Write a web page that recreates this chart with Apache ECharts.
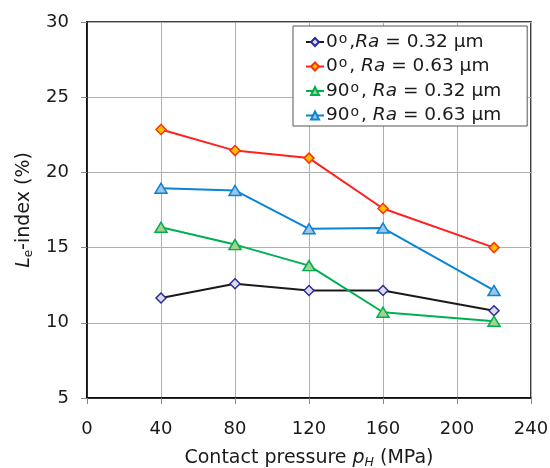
<!DOCTYPE html>
<html>
<head>
<meta charset="utf-8">
<script src="https://cdn.jsdelivr.net/npm/echarts@6/dist/echarts.min.js"></script>
<style>
  html, body { margin: 0; padding: 0; background: #fff; }
  #chart { width: 550px; height: 468px; }
</style>
</head>
<body>
<div id="chart"></div>
<script>
// Contact pressure (MPa) at which each L_e-index was measured
var pressures = [40, 80, 120, 160, 220];

// L_e-index (%) for each orientation / roughness combination
var le0Ra032 = [11.65, 12.6, 12.15, 12.15, 10.8];
var le0Ra063 = [22.85, 21.45, 20.95, 17.6, 15.0];
var le90Ra032 = [16.35, 15.2, 13.8, 10.7, 10.1];
var le90Ra063 = [18.95, 18.8, 16.25, 16.3, 12.15];

// Axis ticks
var xTicks = [0, 40, 80, 120, 160, 200, 240];
var yTicks = [5, 10, 15, 20, 25, 30];

// Series names and their rich-text legend labels
var seriesNames = ['0°,Ra = 0.32 μm', '0°, Ra = 0.63 μm', '90°, Ra = 0.32 μm', '90°, Ra = 0.63 μm'];
var legendRich = {
  '0°,Ra = 0.32 μm': '{n|0}{s|o}{n|,}{i|Ra}{n| = 0.32 μm}',
  '0°, Ra = 0.63 μm': '{n|0}{s|o}{n|, }{i|Ra}{n| = 0.63 μm}',
  '90°, Ra = 0.32 μm': '{n|90}{s|o}{n|, }{i|Ra}{n| = 0.32 μm}',
  '90°, Ra = 0.63 μm': '{n|90}{s|o}{n|, }{i|Ra}{n| = 0.63 μm}'
};

var FONT = 'DejaVu Sans';
var TXT = '#1a1a1a';

function pairs(ys) {
  return pressures.map(function (x, i) { return [x, ys[i]]; });
}

function lineSeries(name, ys, lineColor, symbol, size, fill, border) {
  return {
    name: name,
    type: 'line',
    data: pairs(ys),
    symbol: symbol,
    symbolSize: size,
    showAllSymbol: true,
    lineStyle: { color: lineColor, width: 2 },
    itemStyle: { color: fill, borderColor: border, borderWidth: 1.5 },
    emphasis: { disabled: true },
    animation: false
  };
}

var chart = echarts.init(document.getElementById('chart'), null, { renderer: 'canvas' });

chart.setOption({
  backgroundColor: '#ffffff',
  animation: false,
  grid: {
    left: 87, right: 19, top: 22, bottom: 70,
    outerBoundsMode: 'none',
    show: true, borderColor: '#000', borderWidth: 1.5, containLabel: false
  },
  legend: {
    orient: 'vertical',
    left: 293,
    top: 26,
    padding: [6, 26, 1, 12],
    itemGap: 5,
    itemWidth: 18,
    itemHeight: 10,
    backgroundColor: '#fff',
    borderColor: '#555',
    borderWidth: 1,
    borderRadius: 0,
    data: seriesNames,
    formatter: function (name) { return legendRich[name]; },
    textStyle: {
      fontFamily: FONT,
      color: TXT,
      padding: [0, 0, 0, -3],
      rich: {
        n: { fontFamily: FONT, fontSize: 18.5, color: TXT, lineHeight: 20 },
        i: { fontFamily: FONT, fontSize: 18.5, color: TXT, fontStyle: 'italic', lineHeight: 20 },
        s: { fontFamily: FONT, fontSize: 14, color: TXT, verticalAlign: 'top', lineHeight: 12, padding: [0, 2, 0, 1] }
      }
    }
  },
  xAxis: {
    type: 'value',
    min: xTicks[0],
    max: xTicks[xTicks.length - 1],
    interval: xTicks[1] - xTicks[0],
    name: '{n|Contact pressure }{i|p}{sub|H}{n| (MPa)}',
    nameLocation: 'middle',
    nameGap: 49,
    nameTextStyle: {
      rich: {
        n: { fontFamily: FONT, fontSize: 19, color: TXT, lineHeight: 22 },
        i: { fontFamily: FONT, fontSize: 19, color: TXT, fontStyle: 'italic', lineHeight: 22 },
        sub: { fontFamily: FONT, fontSize: 12.5, color: TXT, fontStyle: 'italic', verticalAlign: 'bottom', lineHeight: 12 }
      }
    },
    axisLine: { show: true, onZero: false, lineStyle: { color: '#000', width: 1.5 } },
    axisTick: { show: true, inside: false, length: 6, lineStyle: { color: '#888' } },
    axisLabel: { fontFamily: FONT, fontSize: 18, color: TXT, margin: 22 },
    splitLine: { show: true, lineStyle: { color: '#b0b0b0', width: 1 } }
  },
  yAxis: {
    type: 'value',
    min: yTicks[0],
    max: yTicks[yTicks.length - 1],
    interval: yTicks[1] - yTicks[0],
    name: '{i|L}{sub|e}{n|-index (%)}',
    nameLocation: 'middle',
    nameGap: 48,
    nameRotate: 90,
    nameTextStyle: {
      rich: {
        n: { fontFamily: FONT, fontSize: 19, color: TXT, lineHeight: 22 },
        i: { fontFamily: FONT, fontSize: 19, color: TXT, fontStyle: 'italic', lineHeight: 22 },
        sub: { fontFamily: FONT, fontSize: 12, color: TXT, verticalAlign: 'bottom', lineHeight: 12 }
      }
    },
    axisLine: { show: true, lineStyle: { color: '#000', width: 1.5 } },
    axisTick: { show: true, inside: false, length: 6, lineStyle: { color: '#888' } },
    axisLabel: { fontFamily: FONT, fontSize: 18, color: TXT, margin: 18 },
    splitLine: { show: true, lineStyle: { color: '#b0b0b0', width: 1 } }
  },
  series: [
    lineSeries(seriesNames[0], le0Ra032, '#1a1a1a', 'diamond', 10, '#dcdce6', '#2b2b9c'),
    lineSeries(seriesNames[1], le0Ra063, '#ff2020', 'diamond', 10, '#ffc000', '#ff3300'),
    lineSeries(seriesNames[2], le90Ra032, '#00b050', 'triangle', [12, 10], '#a9d18e', '#00b050'),
    lineSeries(seriesNames[3], le90Ra063, '#0a84d4', 'triangle', [12, 10], '#9dc3e6', '#0a84d4')
  ]
});
</script>
</body>
</html>
